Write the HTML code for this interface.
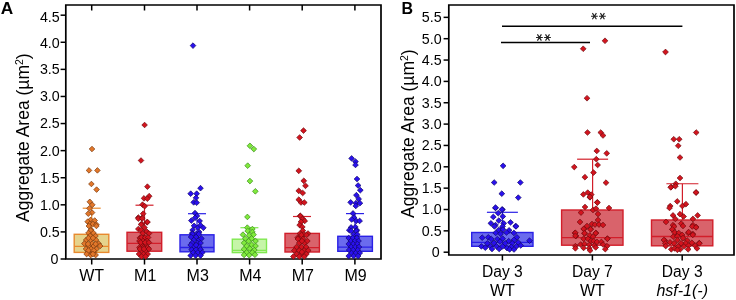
<!DOCTYPE html>
<html><head><meta charset="utf-8"><style>
html,body{margin:0;padding:0;background:#fff;width:736px;height:300px;overflow:hidden}
svg{display:block;will-change:transform}
</style></head><body>
<svg width="736" height="300" viewBox="0 0 736 300" font-family='"Liberation Sans", sans-serif'>
<rect width="736" height="300" fill="#fff"/>
<text transform="translate(0.8,13.6) scale(1.08,1)" font-size="16" font-weight="bold">A</text>
<text transform="translate(28.8,222) rotate(-90)" font-size="17.5">Aggregate Area (µm<tspan font-size="10.5" dy="-5.8">2</tspan><tspan dy="5.8">)</tspan></text>
<path d="M65.8,5.0 H381.0 V259.0 H65.8 Z" fill="none" stroke="#000" stroke-width="1.7"/>
<line x1="60.599999999999994" y1="259.00" x2="65.8" y2="259.00" stroke="#000" stroke-width="1.5"/>
<text transform="translate(58.50,263.75) scale(0.92,1)" text-anchor="end" font-size="15.5">0</text>
<line x1="60.599999999999994" y1="231.91" x2="65.8" y2="231.91" stroke="#000" stroke-width="1.5"/>
<text transform="translate(59.70,237.00) scale(0.92,1)" text-anchor="end" font-size="15.5">0.5</text>
<line x1="60.599999999999994" y1="204.82" x2="65.8" y2="204.82" stroke="#000" stroke-width="1.5"/>
<text transform="translate(59.70,209.60) scale(0.92,1)" text-anchor="end" font-size="15.5">1.0</text>
<line x1="60.599999999999994" y1="177.73" x2="65.8" y2="177.73" stroke="#000" stroke-width="1.5"/>
<text transform="translate(59.70,182.60) scale(0.92,1)" text-anchor="end" font-size="15.5">1.5</text>
<line x1="60.599999999999994" y1="150.64" x2="65.8" y2="150.64" stroke="#000" stroke-width="1.5"/>
<text transform="translate(59.70,156.10) scale(0.92,1)" text-anchor="end" font-size="15.5">2.0</text>
<line x1="60.599999999999994" y1="123.55" x2="65.8" y2="123.55" stroke="#000" stroke-width="1.5"/>
<text transform="translate(59.70,127.60) scale(0.92,1)" text-anchor="end" font-size="15.5">2.5</text>
<line x1="60.599999999999994" y1="96.46" x2="65.8" y2="96.46" stroke="#000" stroke-width="1.5"/>
<text transform="translate(59.70,101.00) scale(0.92,1)" text-anchor="end" font-size="15.5">3.0</text>
<line x1="60.599999999999994" y1="69.37" x2="65.8" y2="69.37" stroke="#000" stroke-width="1.5"/>
<text transform="translate(59.70,74.00) scale(0.92,1)" text-anchor="end" font-size="15.5">3.5</text>
<line x1="60.599999999999994" y1="42.28" x2="65.8" y2="42.28" stroke="#000" stroke-width="1.5"/>
<text transform="translate(59.70,47.50) scale(0.92,1)" text-anchor="end" font-size="15.5">4.0</text>
<line x1="60.599999999999994" y1="15.19" x2="65.8" y2="15.19" stroke="#000" stroke-width="1.5"/>
<text transform="translate(59.70,22.00) scale(0.92,1)" text-anchor="end" font-size="15.5">4.5</text>
<line x1="91.7" y1="259.0" x2="91.7" y2="264.5" stroke="#000" stroke-width="1.5"/>
<line x1="91.7" y1="5.0" x2="91.7" y2="10.5" stroke="#000" stroke-width="1.5"/>
<line x1="144.5" y1="259.0" x2="144.5" y2="264.5" stroke="#000" stroke-width="1.5"/>
<line x1="144.5" y1="5.0" x2="144.5" y2="10.5" stroke="#000" stroke-width="1.5"/>
<line x1="197.0" y1="259.0" x2="197.0" y2="264.5" stroke="#000" stroke-width="1.5"/>
<line x1="197.0" y1="5.0" x2="197.0" y2="10.5" stroke="#000" stroke-width="1.5"/>
<line x1="249.6" y1="259.0" x2="249.6" y2="264.5" stroke="#000" stroke-width="1.5"/>
<line x1="249.6" y1="5.0" x2="249.6" y2="10.5" stroke="#000" stroke-width="1.5"/>
<line x1="302.2" y1="259.0" x2="302.2" y2="264.5" stroke="#000" stroke-width="1.5"/>
<line x1="302.2" y1="5.0" x2="302.2" y2="10.5" stroke="#000" stroke-width="1.5"/>
<line x1="354.9" y1="259.0" x2="354.9" y2="264.5" stroke="#000" stroke-width="1.5"/>
<line x1="354.9" y1="5.0" x2="354.9" y2="10.5" stroke="#000" stroke-width="1.5"/>
<text x="91.7" y="281" text-anchor="middle" font-size="16">WT</text>
<text x="145.2" y="281" text-anchor="middle" font-size="16">M1</text>
<text x="197.7" y="281" text-anchor="middle" font-size="16">M3</text>
<text x="250.29999999999998" y="281" text-anchor="middle" font-size="16">M4</text>
<text x="302.9" y="281" text-anchor="middle" font-size="16">M7</text>
<text x="355.59999999999997" y="281" text-anchor="middle" font-size="16">M9</text>
<rect x="74.2" y="234.3" width="34.599999999999994" height="18.099999999999994" fill="#E6D38C" stroke="#E8892E" stroke-width="1.4"/>
<line x1="74.2" y1="246.3" x2="108.8" y2="246.3" stroke="#E8892E" stroke-width="1.3"/>
<rect x="127" y="232.3" width="34.69999999999999" height="18.899999999999977" fill="#D9636B" stroke="#D21E2A" stroke-width="1.4"/>
<line x1="127" y1="243.3" x2="161.7" y2="243.3" stroke="#D21E2A" stroke-width="1.3"/>
<rect x="180" y="234.8" width="34" height="17.0" fill="#6B6BEE" stroke="#2A20E6" stroke-width="1.4"/>
<line x1="180" y1="247.5" x2="214" y2="247.5" stroke="#2A20E6" stroke-width="1.3"/>
<rect x="232.3" y="239.2" width="34.19999999999999" height="13.400000000000006" fill="#C6F5A8" stroke="#80E850" stroke-width="1.4"/>
<line x1="232.3" y1="250.3" x2="266.5" y2="250.3" stroke="#80E850" stroke-width="1.3"/>
<rect x="285" y="233.4" width="34.39999999999998" height="18.599999999999994" fill="#D9636B" stroke="#D21E2A" stroke-width="1.4"/>
<line x1="285" y1="247.6" x2="319.4" y2="247.6" stroke="#D21E2A" stroke-width="1.3"/>
<rect x="337.8" y="236.3" width="34.599999999999966" height="15.0" fill="#6B6BEE" stroke="#2A20E6" stroke-width="1.4"/>
<line x1="337.8" y1="247.2" x2="372.4" y2="247.2" stroke="#2A20E6" stroke-width="1.3"/>
<line x1="82.7" y1="208.2" x2="100.7" y2="208.2" stroke="#E8892E" stroke-width="1.2"/>
<line x1="91.7" y1="208.2" x2="91.7" y2="234" stroke="#E8892E" stroke-width="1.2"/>
<line x1="135.5" y1="205.2" x2="153.5" y2="205.2" stroke="#D21E2A" stroke-width="1.2"/>
<line x1="144.5" y1="205.2" x2="144.5" y2="232.3" stroke="#D21E2A" stroke-width="1.2"/>
<line x1="188" y1="213.7" x2="206" y2="213.7" stroke="#2A20E6" stroke-width="1.2"/>
<line x1="197" y1="213.7" x2="197" y2="234.8" stroke="#2A20E6" stroke-width="1.2"/>
<line x1="240.4" y1="227.7" x2="258.4" y2="227.7" stroke="#80E850" stroke-width="1.2"/>
<line x1="249.4" y1="227.7" x2="249.4" y2="239.2" stroke="#80E850" stroke-width="1.2"/>
<line x1="293" y1="216.5" x2="311" y2="216.5" stroke="#D21E2A" stroke-width="1.2"/>
<line x1="302" y1="216.5" x2="302" y2="233" stroke="#D21E2A" stroke-width="1.2"/>
<line x1="346" y1="213.6" x2="364" y2="213.6" stroke="#2A20E6" stroke-width="1.2"/>
<line x1="355" y1="213.6" x2="355" y2="236.3" stroke="#2A20E6" stroke-width="1.2"/>
<path d="M92.0,146.2L94.8,149.0L92.0,151.8L89.2,149.0Z" fill="#E2772A" stroke="#7A3A0E" stroke-width="0.7"/>
<path d="M89.0,167.6L91.8,170.4L89.0,173.2L86.2,170.4Z" fill="#E2772A" stroke="#7A3A0E" stroke-width="0.7"/>
<path d="M97.4,167.6L100.2,170.4L97.4,173.2L94.6,170.4Z" fill="#E2772A" stroke="#7A3A0E" stroke-width="0.7"/>
<path d="M91.4,181.2L94.2,184.0L91.4,186.8L88.6,184.0Z" fill="#E2772A" stroke="#7A3A0E" stroke-width="0.7"/>
<path d="M96.6,186.8L99.4,189.6L96.6,192.4L93.8,189.6Z" fill="#E2772A" stroke="#7A3A0E" stroke-width="0.7"/>
<path d="M89.8,199.0L92.6,201.8L89.8,204.7L87.0,201.8Z" fill="#E2772A" stroke="#7A3A0E" stroke-width="0.7"/>
<path d="M92.3,202.0L95.1,204.8L92.3,207.7L89.5,204.8Z" fill="#E2772A" stroke="#7A3A0E" stroke-width="0.7"/>
<path d="M89.4,205.5L92.2,208.3L89.4,211.2L86.6,208.3Z" fill="#E2772A" stroke="#7A3A0E" stroke-width="0.7"/>
<path d="M92.1,209.8L94.9,212.6L92.1,215.4L89.2,212.6Z" fill="#E2772A" stroke="#7A3A0E" stroke-width="0.7"/>
<path d="M88.3,210.8L91.1,213.7L88.3,216.5L85.5,213.7Z" fill="#E2772A" stroke="#7A3A0E" stroke-width="0.7"/>
<path d="M90.6,217.1L93.4,219.9L90.6,222.8L87.8,219.9Z" fill="#E2772A" stroke="#7A3A0E" stroke-width="0.7"/>
<path d="M87.7,218.8L90.5,221.7L87.7,224.5L84.9,221.7Z" fill="#E2772A" stroke="#7A3A0E" stroke-width="0.7"/>
<path d="M94.7,217.7L97.5,220.5L94.7,223.3L91.9,220.5Z" fill="#E2772A" stroke="#7A3A0E" stroke-width="0.7"/>
<path d="M89.8,221.2L92.6,224.0L89.8,226.8L87.0,224.0Z" fill="#E2772A" stroke="#7A3A0E" stroke-width="0.7"/>
<path d="M92.9,221.2L95.8,224.0L92.9,226.8L90.1,224.0Z" fill="#E2772A" stroke="#7A3A0E" stroke-width="0.7"/>
<path d="M96.4,221.8L99.2,224.6L96.4,227.4L93.6,224.6Z" fill="#E2772A" stroke="#7A3A0E" stroke-width="0.7"/>
<path d="M91.2,227.0L94.0,229.8L91.2,232.7L88.4,229.8Z" fill="#E2772A" stroke="#7A3A0E" stroke-width="0.7"/>
<path d="M88.8,223.2L91.6,226.0L88.8,228.8L86.0,226.0Z" fill="#E2772A" stroke="#7A3A0E" stroke-width="0.7"/>
<path d="M96.4,223.2L99.2,226.0L96.4,228.8L93.6,226.0Z" fill="#E2772A" stroke="#7A3A0E" stroke-width="0.7"/>
<path d="M90.6,227.7L93.4,230.5L90.6,233.3L87.8,230.5Z" fill="#E2772A" stroke="#7A3A0E" stroke-width="0.7"/>
<path d="M88.5,230.2L91.3,233.0L88.5,235.8L85.7,233.0Z" fill="#E2772A" stroke="#7A3A0E" stroke-width="0.7"/>
<path d="M93.5,230.2L96.3,233.0L93.5,235.8L90.7,233.0Z" fill="#E2772A" stroke="#7A3A0E" stroke-width="0.7"/>
<path d="M90.0,233.2L92.8,236.0L90.0,238.8L87.2,236.0Z" fill="#E2772A" stroke="#7A3A0E" stroke-width="0.7"/>
<path d="M95.5,233.2L98.3,236.0L95.5,238.8L92.7,236.0Z" fill="#E2772A" stroke="#7A3A0E" stroke-width="0.7"/>
<path d="M86.2,237.2L89.0,240.0L86.2,242.8L83.3,240.0Z" fill="#E2772A" stroke="#7A3A0E" stroke-width="0.7"/>
<path d="M90.8,237.2L93.6,240.0L90.8,242.8L87.9,240.0Z" fill="#E2772A" stroke="#7A3A0E" stroke-width="0.7"/>
<path d="M96.0,237.2L98.8,240.0L96.0,242.8L93.1,240.0Z" fill="#E2772A" stroke="#7A3A0E" stroke-width="0.7"/>
<path d="M84.4,240.8L87.2,243.6L84.4,246.4L81.5,243.6Z" fill="#E2772A" stroke="#7A3A0E" stroke-width="0.7"/>
<path d="M92.3,240.8L95.1,243.6L92.3,246.4L89.5,243.6Z" fill="#E2772A" stroke="#7A3A0E" stroke-width="0.7"/>
<path d="M98.6,240.8L101.4,243.6L98.6,246.4L95.8,243.6Z" fill="#E2772A" stroke="#7A3A0E" stroke-width="0.7"/>
<path d="M88.4,243.2L91.3,246.0L88.4,248.8L85.6,246.0Z" fill="#E2772A" stroke="#7A3A0E" stroke-width="0.7"/>
<path d="M93.8,243.2L96.7,246.0L93.8,248.8L91.0,246.0Z" fill="#E2772A" stroke="#7A3A0E" stroke-width="0.7"/>
<path d="M100.1,243.2L103.0,246.0L100.1,248.8L97.3,246.0Z" fill="#E2772A" stroke="#7A3A0E" stroke-width="0.7"/>
<path d="M86.0,246.2L88.8,249.0L86.0,251.8L83.2,249.0Z" fill="#E2772A" stroke="#7A3A0E" stroke-width="0.7"/>
<path d="M91.1,246.2L94.0,249.0L91.1,251.8L88.3,249.0Z" fill="#E2772A" stroke="#7A3A0E" stroke-width="0.7"/>
<path d="M96.5,246.2L99.4,249.0L96.5,251.8L93.7,249.0Z" fill="#E2772A" stroke="#7A3A0E" stroke-width="0.7"/>
<path d="M88.4,249.2L91.3,252.0L88.4,254.8L85.6,252.0Z" fill="#E2772A" stroke="#7A3A0E" stroke-width="0.7"/>
<path d="M93.4,249.2L96.2,252.0L93.4,254.8L90.5,252.0Z" fill="#E2772A" stroke="#7A3A0E" stroke-width="0.7"/>
<path d="M90.7,252.2L93.5,255.0L90.7,257.9L87.8,255.0Z" fill="#E2772A" stroke="#7A3A0E" stroke-width="0.7"/>
<path d="M95.6,252.2L98.5,255.0L95.6,257.9L92.8,255.0Z" fill="#E2772A" stroke="#7A3A0E" stroke-width="0.7"/>
<path d="M88.4,235.2L91.3,238.0L88.4,240.8L85.6,238.0Z" fill="#E2772A" stroke="#7A3A0E" stroke-width="0.7"/>
<path d="M92.9,235.2L95.8,238.0L92.9,240.8L90.1,238.0Z" fill="#E2772A" stroke="#7A3A0E" stroke-width="0.7"/>
<path d="M88.0,241.2L90.8,244.0L88.0,246.8L85.1,244.0Z" fill="#E2772A" stroke="#7A3A0E" stroke-width="0.7"/>
<path d="M95.6,241.2L98.5,244.0L95.6,246.8L92.8,244.0Z" fill="#E2772A" stroke="#7A3A0E" stroke-width="0.7"/>
<path d="M88.4,247.7L91.3,250.5L88.4,253.3L85.6,250.5Z" fill="#E2772A" stroke="#7A3A0E" stroke-width="0.7"/>
<path d="M93.8,247.7L96.7,250.5L93.8,253.3L91.0,250.5Z" fill="#E2772A" stroke="#7A3A0E" stroke-width="0.7"/>
<path d="M86.6,251.2L89.5,254.0L86.6,256.9L83.8,254.0Z" fill="#E2772A" stroke="#7A3A0E" stroke-width="0.7"/>
<path d="M92.9,251.2L95.8,254.0L92.9,256.9L90.1,254.0Z" fill="#E2772A" stroke="#7A3A0E" stroke-width="0.7"/>
<path d="M144.6,122.2L147.4,125.0L144.6,127.8L141.8,125.0Z" fill="#D3141E" stroke="#6E0A0E" stroke-width="0.7"/>
<path d="M141.0,157.7L143.8,160.5L141.0,163.3L138.2,160.5Z" fill="#D3141E" stroke="#6E0A0E" stroke-width="0.7"/>
<path d="M147.4,183.8L150.2,186.7L147.4,189.5L144.6,186.7Z" fill="#D3141E" stroke="#6E0A0E" stroke-width="0.7"/>
<path d="M149.2,193.3L152.0,196.2L149.2,199.0L146.3,196.2Z" fill="#D3141E" stroke="#6E0A0E" stroke-width="0.7"/>
<path d="M144.0,195.5L146.8,198.3L144.0,201.2L141.2,198.3Z" fill="#D3141E" stroke="#6E0A0E" stroke-width="0.7"/>
<path d="M147.3,195.8L150.2,198.7L147.3,201.5L144.5,198.7Z" fill="#D3141E" stroke="#6E0A0E" stroke-width="0.7"/>
<path d="M142.5,201.8L145.3,204.7L142.5,207.5L139.7,204.7Z" fill="#D3141E" stroke="#6E0A0E" stroke-width="0.7"/>
<path d="M144.7,203.3L147.5,206.2L144.7,209.0L141.8,206.2Z" fill="#D3141E" stroke="#6E0A0E" stroke-width="0.7"/>
<path d="M143.2,210.8L146.0,213.7L143.2,216.5L140.3,213.7Z" fill="#D3141E" stroke="#6E0A0E" stroke-width="0.7"/>
<path d="M138.3,214.7L141.2,217.5L138.3,220.3L135.5,217.5Z" fill="#D3141E" stroke="#6E0A0E" stroke-width="0.7"/>
<path d="M141.7,215.3L144.5,218.2L141.7,221.0L138.8,218.2Z" fill="#D3141E" stroke="#6E0A0E" stroke-width="0.7"/>
<path d="M147.0,219.5L149.8,222.3L147.0,225.2L144.2,222.3Z" fill="#D3141E" stroke="#6E0A0E" stroke-width="0.7"/>
<path d="M141.7,221.0L144.5,223.8L141.7,226.7L138.8,223.8Z" fill="#D3141E" stroke="#6E0A0E" stroke-width="0.7"/>
<path d="M138.3,215.8L141.2,218.7L138.3,221.5L135.5,218.7Z" fill="#D3141E" stroke="#6E0A0E" stroke-width="0.7"/>
<path d="M142.3,215.6L145.2,218.4L142.3,221.2L139.5,218.4Z" fill="#D3141E" stroke="#6E0A0E" stroke-width="0.7"/>
<path d="M147.5,219.2L150.3,222.0L147.5,224.8L144.7,222.0Z" fill="#D3141E" stroke="#6E0A0E" stroke-width="0.7"/>
<path d="M141.2,221.8L144.0,224.6L141.2,227.4L138.3,224.6Z" fill="#D3141E" stroke="#6E0A0E" stroke-width="0.7"/>
<path d="M144.5,224.8L147.3,227.6L144.5,230.4L141.7,227.6Z" fill="#D3141E" stroke="#6E0A0E" stroke-width="0.7"/>
<path d="M138.3,226.2L141.2,229.0L138.3,231.8L135.5,229.0Z" fill="#D3141E" stroke="#6E0A0E" stroke-width="0.7"/>
<path d="M141.2,227.2L144.0,230.1L141.2,232.9L138.3,230.1Z" fill="#D3141E" stroke="#6E0A0E" stroke-width="0.7"/>
<path d="M146.8,228.8L149.6,231.6L146.8,234.4L143.9,231.6Z" fill="#D3141E" stroke="#6E0A0E" stroke-width="0.7"/>
<path d="M142.7,230.6L145.5,233.4L142.7,236.2L139.8,233.4Z" fill="#D3141E" stroke="#6E0A0E" stroke-width="0.7"/>
<path d="M149.0,230.6L151.8,233.4L149.0,236.2L146.2,233.4Z" fill="#D3141E" stroke="#6E0A0E" stroke-width="0.7"/>
<path d="M139.8,235.1L142.7,237.9L139.8,240.8L137.0,237.9Z" fill="#D3141E" stroke="#6E0A0E" stroke-width="0.7"/>
<path d="M144.2,235.1L147.0,237.9L144.2,240.8L141.3,237.9Z" fill="#D3141E" stroke="#6E0A0E" stroke-width="0.7"/>
<path d="M141.5,234.7L144.4,237.5L141.5,240.3L138.7,237.5Z" fill="#D3141E" stroke="#6E0A0E" stroke-width="0.7"/>
<path d="M145.2,234.7L148.0,237.5L145.2,240.3L142.3,237.5Z" fill="#D3141E" stroke="#6E0A0E" stroke-width="0.7"/>
<path d="M148.1,234.7L150.9,237.5L148.1,240.3L145.2,237.5Z" fill="#D3141E" stroke="#6E0A0E" stroke-width="0.7"/>
<path d="M139.5,238.2L142.3,241.0L139.5,243.8L136.6,241.0Z" fill="#D3141E" stroke="#6E0A0E" stroke-width="0.7"/>
<path d="M143.1,238.2L146.0,241.0L143.1,243.8L140.3,241.0Z" fill="#D3141E" stroke="#6E0A0E" stroke-width="0.7"/>
<path d="M147.2,238.2L150.1,241.0L147.2,243.8L144.4,241.0Z" fill="#D3141E" stroke="#6E0A0E" stroke-width="0.7"/>
<path d="M141.5,241.2L144.4,244.0L141.5,246.8L138.7,244.0Z" fill="#D3141E" stroke="#6E0A0E" stroke-width="0.7"/>
<path d="M145.6,241.2L148.5,244.0L145.6,246.8L142.8,244.0Z" fill="#D3141E" stroke="#6E0A0E" stroke-width="0.7"/>
<path d="M139.5,244.7L142.3,247.5L139.5,250.3L136.6,247.5Z" fill="#D3141E" stroke="#6E0A0E" stroke-width="0.7"/>
<path d="M143.6,244.7L146.4,247.5L143.6,250.3L140.7,247.5Z" fill="#D3141E" stroke="#6E0A0E" stroke-width="0.7"/>
<path d="M147.7,244.7L150.5,247.5L147.7,250.3L144.8,247.5Z" fill="#D3141E" stroke="#6E0A0E" stroke-width="0.7"/>
<path d="M141.5,248.2L144.4,251.0L141.5,253.8L138.7,251.0Z" fill="#D3141E" stroke="#6E0A0E" stroke-width="0.7"/>
<path d="M145.6,248.2L148.5,251.0L145.6,253.8L142.8,251.0Z" fill="#D3141E" stroke="#6E0A0E" stroke-width="0.7"/>
<path d="M139.0,251.2L141.9,254.0L139.0,256.9L136.2,254.0Z" fill="#D3141E" stroke="#6E0A0E" stroke-width="0.7"/>
<path d="M143.6,251.2L146.4,254.0L143.6,256.9L140.7,254.0Z" fill="#D3141E" stroke="#6E0A0E" stroke-width="0.7"/>
<path d="M147.7,251.2L150.5,254.0L147.7,256.9L144.8,254.0Z" fill="#D3141E" stroke="#6E0A0E" stroke-width="0.7"/>
<path d="M141.5,253.7L144.4,256.5L141.5,259.4L138.7,256.5Z" fill="#D3141E" stroke="#6E0A0E" stroke-width="0.7"/>
<path d="M145.6,253.7L148.5,256.5L145.6,259.4L142.8,256.5Z" fill="#D3141E" stroke="#6E0A0E" stroke-width="0.7"/>
<path d="M139.9,246.2L142.7,249.0L139.9,251.8L137.0,249.0Z" fill="#D3141E" stroke="#6E0A0E" stroke-width="0.7"/>
<path d="M144.0,246.2L146.8,249.0L144.0,251.8L141.1,249.0Z" fill="#D3141E" stroke="#6E0A0E" stroke-width="0.7"/>
<path d="M148.9,246.2L151.7,249.0L148.9,251.8L146.0,249.0Z" fill="#D3141E" stroke="#6E0A0E" stroke-width="0.7"/>
<path d="M140.7,239.7L143.5,242.5L140.7,245.3L137.8,242.5Z" fill="#D3141E" stroke="#6E0A0E" stroke-width="0.7"/>
<path d="M145.2,239.7L148.0,242.5L145.2,245.3L142.3,242.5Z" fill="#D3141E" stroke="#6E0A0E" stroke-width="0.7"/>
<path d="M148.9,239.7L151.7,242.5L148.9,245.3L146.0,242.5Z" fill="#D3141E" stroke="#6E0A0E" stroke-width="0.7"/>
<path d="M193.0,42.8L195.8,45.6L193.0,48.5L190.2,45.6Z" fill="#2A10EE" stroke="#10086A" stroke-width="0.7"/>
<path d="M200.5,185.3L203.3,188.2L200.5,191.0L197.7,188.2Z" fill="#2A10EE" stroke="#10086A" stroke-width="0.7"/>
<path d="M190.7,190.8L193.5,193.7L190.7,196.5L187.8,193.7Z" fill="#2A10EE" stroke="#10086A" stroke-width="0.7"/>
<path d="M196.7,190.8L199.5,193.7L196.7,196.5L193.8,193.7Z" fill="#2A10EE" stroke="#10086A" stroke-width="0.7"/>
<path d="M196.0,195.0L198.8,197.8L196.0,200.7L193.2,197.8Z" fill="#2A10EE" stroke="#10086A" stroke-width="0.7"/>
<path d="M193.7,199.5L196.5,202.3L193.7,205.2L190.8,202.3Z" fill="#2A10EE" stroke="#10086A" stroke-width="0.7"/>
<path d="M196.7,199.8L199.5,202.7L196.7,205.5L193.8,202.7Z" fill="#2A10EE" stroke="#10086A" stroke-width="0.7"/>
<path d="M195.0,210.2L197.8,213.1L195.0,215.9L192.2,213.1Z" fill="#2A10EE" stroke="#10086A" stroke-width="0.7"/>
<path d="M196.9,213.1L199.8,215.9L196.9,218.8L194.1,215.9Z" fill="#2A10EE" stroke="#10086A" stroke-width="0.7"/>
<path d="M195.0,215.0L197.8,217.8L195.0,220.7L192.2,217.8Z" fill="#2A10EE" stroke="#10086A" stroke-width="0.7"/>
<path d="M191.3,217.8L194.2,220.6L191.3,223.4L188.5,220.6Z" fill="#2A10EE" stroke="#10086A" stroke-width="0.7"/>
<path d="M199.7,218.2L202.5,221.1L199.7,223.9L196.8,221.1Z" fill="#2A10EE" stroke="#10086A" stroke-width="0.7"/>
<path d="M194.1,223.0L196.9,225.8L194.1,228.7L191.2,225.8Z" fill="#2A10EE" stroke="#10086A" stroke-width="0.7"/>
<path d="M197.8,224.8L200.7,227.6L197.8,230.4L195.0,227.6Z" fill="#2A10EE" stroke="#10086A" stroke-width="0.7"/>
<path d="M200.6,222.5L203.4,225.3L200.6,228.2L197.8,225.3Z" fill="#2A10EE" stroke="#10086A" stroke-width="0.7"/>
<path d="M203.4,225.0L206.2,227.8L203.4,230.7L200.6,227.8Z" fill="#2A10EE" stroke="#10086A" stroke-width="0.7"/>
<path d="M192.7,227.2L195.5,230.0L192.7,232.8L189.8,230.0Z" fill="#2A10EE" stroke="#10086A" stroke-width="0.7"/>
<path d="M199.2,229.2L202.0,232.1L199.2,234.9L196.3,232.1Z" fill="#2A10EE" stroke="#10086A" stroke-width="0.7"/>
<path d="M192.2,230.3L195.0,233.2L192.2,236.0L189.3,233.2Z" fill="#2A10EE" stroke="#10086A" stroke-width="0.7"/>
<path d="M196.0,231.3L198.8,234.2L196.0,237.0L193.2,234.2Z" fill="#2A10EE" stroke="#10086A" stroke-width="0.7"/>
<path d="M192.4,231.2L195.3,234.0L192.4,236.8L189.6,234.0Z" fill="#2A10EE" stroke="#10086A" stroke-width="0.7"/>
<path d="M198.8,231.2L201.6,234.0L198.8,236.8L195.9,234.0Z" fill="#2A10EE" stroke="#10086A" stroke-width="0.7"/>
<path d="M191.1,234.2L193.9,237.0L191.1,239.8L188.2,237.0Z" fill="#2A10EE" stroke="#10086A" stroke-width="0.7"/>
<path d="M196.1,234.2L198.9,237.0L196.1,239.8L193.2,237.0Z" fill="#2A10EE" stroke="#10086A" stroke-width="0.7"/>
<path d="M193.8,237.2L196.7,240.0L193.8,242.8L191.0,240.0Z" fill="#2A10EE" stroke="#10086A" stroke-width="0.7"/>
<path d="M198.8,237.2L201.6,240.0L198.8,242.8L195.9,240.0Z" fill="#2A10EE" stroke="#10086A" stroke-width="0.7"/>
<path d="M192.0,240.2L194.8,243.0L192.0,245.8L189.2,243.0Z" fill="#2A10EE" stroke="#10086A" stroke-width="0.7"/>
<path d="M197.4,240.2L200.2,243.0L197.4,245.8L194.6,243.0Z" fill="#2A10EE" stroke="#10086A" stroke-width="0.7"/>
<path d="M200.6,240.2L203.4,243.0L200.6,245.8L197.7,243.0Z" fill="#2A10EE" stroke="#10086A" stroke-width="0.7"/>
<path d="M194.2,243.7L197.1,246.5L194.2,249.3L191.4,246.5Z" fill="#2A10EE" stroke="#10086A" stroke-width="0.7"/>
<path d="M199.2,243.7L202.0,246.5L199.2,249.3L196.3,246.5Z" fill="#2A10EE" stroke="#10086A" stroke-width="0.7"/>
<path d="M191.6,246.7L194.4,249.5L191.6,252.3L188.7,249.5Z" fill="#2A10EE" stroke="#10086A" stroke-width="0.7"/>
<path d="M196.1,246.7L198.9,249.5L196.1,252.3L193.2,249.5Z" fill="#2A10EE" stroke="#10086A" stroke-width="0.7"/>
<path d="M200.6,246.7L203.4,249.5L200.6,252.3L197.7,249.5Z" fill="#2A10EE" stroke="#10086A" stroke-width="0.7"/>
<path d="M193.3,249.7L196.2,252.5L193.3,255.3L190.5,252.5Z" fill="#2A10EE" stroke="#10086A" stroke-width="0.7"/>
<path d="M197.8,249.7L200.7,252.5L197.8,255.3L195.0,252.5Z" fill="#2A10EE" stroke="#10086A" stroke-width="0.7"/>
<path d="M202.3,249.7L205.2,252.5L202.3,255.3L199.5,252.5Z" fill="#2A10EE" stroke="#10086A" stroke-width="0.7"/>
<path d="M190.7,252.7L193.5,255.5L190.7,258.4L187.8,255.5Z" fill="#2A10EE" stroke="#10086A" stroke-width="0.7"/>
<path d="M195.6,252.7L198.4,255.5L195.6,258.4L192.8,255.5Z" fill="#2A10EE" stroke="#10086A" stroke-width="0.7"/>
<path d="M200.6,252.7L203.4,255.5L200.6,258.4L197.7,255.5Z" fill="#2A10EE" stroke="#10086A" stroke-width="0.7"/>
<path d="M201.4,235.7L204.3,238.5L201.4,241.3L198.6,238.5Z" fill="#2A10EE" stroke="#10086A" stroke-width="0.7"/>
<path d="M190.7,242.2L193.5,245.0L190.7,247.8L187.8,245.0Z" fill="#2A10EE" stroke="#10086A" stroke-width="0.7"/>
<path d="M196.1,242.2L198.9,245.0L196.1,247.8L193.2,245.0Z" fill="#2A10EE" stroke="#10086A" stroke-width="0.7"/>
<path d="M249.9,143.0L252.8,145.8L249.9,148.7L247.1,145.8Z" fill="#80EA3C" stroke="#3A8A1A" stroke-width="0.7"/>
<path d="M253.8,146.2L256.7,149.1L253.8,151.9L251.0,149.1Z" fill="#80EA3C" stroke="#3A8A1A" stroke-width="0.7"/>
<path d="M247.7,162.8L250.5,165.7L247.7,168.5L244.8,165.7Z" fill="#80EA3C" stroke="#3A8A1A" stroke-width="0.7"/>
<path d="M249.9,178.2L252.8,181.1L249.9,183.9L247.1,181.1Z" fill="#80EA3C" stroke="#3A8A1A" stroke-width="0.7"/>
<path d="M255.3,188.5L258.2,191.3L255.3,194.2L252.5,191.3Z" fill="#80EA3C" stroke="#3A8A1A" stroke-width="0.7"/>
<path d="M247.4,214.1L250.2,216.9L247.4,219.8L244.6,216.9Z" fill="#80EA3C" stroke="#3A8A1A" stroke-width="0.7"/>
<path d="M247.3,224.8L250.2,227.7L247.3,230.5L244.5,227.7Z" fill="#80EA3C" stroke="#3A8A1A" stroke-width="0.7"/>
<path d="M252.4,226.2L255.2,229.0L252.4,231.8L249.6,229.0Z" fill="#80EA3C" stroke="#3A8A1A" stroke-width="0.7"/>
<path d="M247.7,228.1L250.5,230.9L247.7,233.8L244.8,230.9Z" fill="#80EA3C" stroke="#3A8A1A" stroke-width="0.7"/>
<path d="M252.4,229.1L255.2,231.9L252.4,234.8L249.6,231.9Z" fill="#80EA3C" stroke="#3A8A1A" stroke-width="0.7"/>
<path d="M242.9,231.8L245.8,234.7L242.9,237.5L240.1,234.7Z" fill="#80EA3C" stroke="#3A8A1A" stroke-width="0.7"/>
<path d="M249.2,232.5L252.0,235.3L249.2,238.2L246.3,235.3Z" fill="#80EA3C" stroke="#3A8A1A" stroke-width="0.7"/>
<path d="M253.6,231.8L256.4,234.7L253.6,237.5L250.8,234.7Z" fill="#80EA3C" stroke="#3A8A1A" stroke-width="0.7"/>
<path d="M245.4,235.7L248.2,238.5L245.4,241.3L242.6,238.5Z" fill="#80EA3C" stroke="#3A8A1A" stroke-width="0.7"/>
<path d="M251.7,235.7L254.5,238.5L251.7,241.3L248.8,238.5Z" fill="#80EA3C" stroke="#3A8A1A" stroke-width="0.7"/>
<path d="M255.5,238.2L258.4,241.0L255.5,243.8L252.7,241.0Z" fill="#80EA3C" stroke="#3A8A1A" stroke-width="0.7"/>
<path d="M248.6,238.3L251.4,241.2L248.6,244.0L245.8,241.2Z" fill="#80EA3C" stroke="#3A8A1A" stroke-width="0.7"/>
<path d="M244.1,240.1L246.9,242.9L244.1,245.8L241.2,242.9Z" fill="#80EA3C" stroke="#3A8A1A" stroke-width="0.7"/>
<path d="M251.7,242.0L254.5,244.8L251.7,247.7L248.8,244.8Z" fill="#80EA3C" stroke="#3A8A1A" stroke-width="0.7"/>
<path d="M246.7,243.2L249.5,246.0L246.7,248.8L243.8,246.0Z" fill="#80EA3C" stroke="#3A8A1A" stroke-width="0.7"/>
<path d="M255.5,243.2L258.4,246.0L255.5,248.8L252.7,246.0Z" fill="#80EA3C" stroke="#3A8A1A" stroke-width="0.7"/>
<path d="M244.1,246.3L246.9,249.2L244.1,252.0L241.2,249.2Z" fill="#80EA3C" stroke="#3A8A1A" stroke-width="0.7"/>
<path d="M249.8,245.8L252.7,248.6L249.8,251.4L247.0,248.6Z" fill="#80EA3C" stroke="#3A8A1A" stroke-width="0.7"/>
<path d="M254.3,247.2L257.2,250.1L254.3,252.9L251.5,250.1Z" fill="#80EA3C" stroke="#3A8A1A" stroke-width="0.7"/>
<path d="M246.7,249.6L249.5,252.4L246.7,255.2L243.8,252.4Z" fill="#80EA3C" stroke="#3A8A1A" stroke-width="0.7"/>
<path d="M252.4,249.6L255.2,252.4L252.4,255.2L249.6,252.4Z" fill="#80EA3C" stroke="#3A8A1A" stroke-width="0.7"/>
<path d="M244.1,252.1L246.9,254.9L244.1,257.8L241.2,254.9Z" fill="#80EA3C" stroke="#3A8A1A" stroke-width="0.7"/>
<path d="M249.2,252.3L252.0,255.2L249.2,258.1L246.3,255.2Z" fill="#80EA3C" stroke="#3A8A1A" stroke-width="0.7"/>
<path d="M254.9,251.8L257.8,254.7L254.9,257.6L252.1,254.7Z" fill="#80EA3C" stroke="#3A8A1A" stroke-width="0.7"/>
<path d="M303.5,127.8L306.4,130.6L303.5,133.4L300.6,130.6Z" fill="#D3141E" stroke="#6E0A0E" stroke-width="0.7"/>
<path d="M299.6,134.7L302.5,137.5L299.6,140.3L296.8,137.5Z" fill="#D3141E" stroke="#6E0A0E" stroke-width="0.7"/>
<path d="M298.8,168.0L301.7,170.8L298.8,173.7L295.9,170.8Z" fill="#D3141E" stroke="#6E0A0E" stroke-width="0.7"/>
<path d="M303.8,178.0L306.7,180.8L303.8,183.7L300.9,180.8Z" fill="#D3141E" stroke="#6E0A0E" stroke-width="0.7"/>
<path d="M305.5,183.0L308.4,185.8L305.5,188.7L302.6,185.8Z" fill="#D3141E" stroke="#6E0A0E" stroke-width="0.7"/>
<path d="M298.8,188.0L301.7,190.8L298.8,193.7L295.9,190.8Z" fill="#D3141E" stroke="#6E0A0E" stroke-width="0.7"/>
<path d="M302.7,190.2L305.6,193.0L302.7,195.8L299.8,193.0Z" fill="#D3141E" stroke="#6E0A0E" stroke-width="0.7"/>
<path d="M298.8,196.8L301.7,199.7L298.8,202.5L295.9,199.7Z" fill="#D3141E" stroke="#6E0A0E" stroke-width="0.7"/>
<path d="M301.0,199.7L303.9,202.5L301.0,205.3L298.1,202.5Z" fill="#D3141E" stroke="#6E0A0E" stroke-width="0.7"/>
<path d="M304.3,199.7L307.2,202.5L304.3,205.3L301.4,202.5Z" fill="#D3141E" stroke="#6E0A0E" stroke-width="0.7"/>
<path d="M300.2,213.0L303.1,215.8L300.2,218.7L297.3,215.8Z" fill="#D3141E" stroke="#6E0A0E" stroke-width="0.7"/>
<path d="M303.0,216.3L305.9,219.2L303.0,222.0L300.1,219.2Z" fill="#D3141E" stroke="#6E0A0E" stroke-width="0.7"/>
<path d="M300.5,213.3L303.4,216.2L300.5,219.0L297.6,216.2Z" fill="#D3141E" stroke="#6E0A0E" stroke-width="0.7"/>
<path d="M302.4,216.2L305.2,219.0L302.4,221.8L299.5,219.0Z" fill="#D3141E" stroke="#6E0A0E" stroke-width="0.7"/>
<path d="M304.7,218.1L307.6,220.9L304.7,223.8L301.8,220.9Z" fill="#D3141E" stroke="#6E0A0E" stroke-width="0.7"/>
<path d="M301.0,219.0L303.9,221.8L301.0,224.7L298.1,221.8Z" fill="#D3141E" stroke="#6E0A0E" stroke-width="0.7"/>
<path d="M299.6,222.2L302.5,225.1L299.6,227.9L296.8,225.1Z" fill="#D3141E" stroke="#6E0A0E" stroke-width="0.7"/>
<path d="M302.4,224.2L305.2,227.0L302.4,229.8L299.5,227.0Z" fill="#D3141E" stroke="#6E0A0E" stroke-width="0.7"/>
<path d="M302.8,227.8L305.7,230.7L302.8,233.5L299.9,230.7Z" fill="#D3141E" stroke="#6E0A0E" stroke-width="0.7"/>
<path d="M300.0,230.7L302.9,233.5L300.0,236.3L297.1,233.5Z" fill="#D3141E" stroke="#6E0A0E" stroke-width="0.7"/>
<path d="M308.0,230.7L310.9,233.5L308.0,236.3L305.1,233.5Z" fill="#D3141E" stroke="#6E0A0E" stroke-width="0.7"/>
<path d="M303.8,231.6L306.7,234.4L303.8,237.2L300.9,234.4Z" fill="#D3141E" stroke="#6E0A0E" stroke-width="0.7"/>
<path d="M297.7,234.8L300.6,237.7L297.7,240.5L294.8,237.7Z" fill="#D3141E" stroke="#6E0A0E" stroke-width="0.7"/>
<path d="M301.4,234.3L304.2,237.2L301.4,240.0L298.5,237.2Z" fill="#D3141E" stroke="#6E0A0E" stroke-width="0.7"/>
<path d="M301.5,232.2L304.4,235.0L301.5,237.8L298.6,235.0Z" fill="#D3141E" stroke="#6E0A0E" stroke-width="0.7"/>
<path d="M306.4,232.2L309.3,235.0L306.4,237.8L303.6,235.0Z" fill="#D3141E" stroke="#6E0A0E" stroke-width="0.7"/>
<path d="M297.9,236.2L300.8,239.0L297.9,241.8L295.0,239.0Z" fill="#D3141E" stroke="#6E0A0E" stroke-width="0.7"/>
<path d="M302.9,236.2L305.7,239.0L302.9,241.8L300.0,239.0Z" fill="#D3141E" stroke="#6E0A0E" stroke-width="0.7"/>
<path d="M299.2,240.2L302.1,243.0L299.2,245.8L296.4,243.0Z" fill="#D3141E" stroke="#6E0A0E" stroke-width="0.7"/>
<path d="M304.6,240.2L307.5,243.0L304.6,245.8L301.8,243.0Z" fill="#D3141E" stroke="#6E0A0E" stroke-width="0.7"/>
<path d="M296.6,244.2L299.4,247.0L296.6,249.8L293.7,247.0Z" fill="#D3141E" stroke="#6E0A0E" stroke-width="0.7"/>
<path d="M301.5,244.2L304.4,247.0L301.5,249.8L298.6,247.0Z" fill="#D3141E" stroke="#6E0A0E" stroke-width="0.7"/>
<path d="M306.0,244.2L308.9,247.0L306.0,249.8L303.1,247.0Z" fill="#D3141E" stroke="#6E0A0E" stroke-width="0.7"/>
<path d="M294.3,247.7L297.2,250.5L294.3,253.3L291.4,250.5Z" fill="#D3141E" stroke="#6E0A0E" stroke-width="0.7"/>
<path d="M299.2,247.7L302.1,250.5L299.2,253.3L296.4,250.5Z" fill="#D3141E" stroke="#6E0A0E" stroke-width="0.7"/>
<path d="M304.2,247.7L307.1,250.5L304.2,253.3L301.3,250.5Z" fill="#D3141E" stroke="#6E0A0E" stroke-width="0.7"/>
<path d="M308.2,247.7L311.1,250.5L308.2,253.3L305.4,250.5Z" fill="#D3141E" stroke="#6E0A0E" stroke-width="0.7"/>
<path d="M296.6,251.2L299.4,254.0L296.6,256.9L293.7,254.0Z" fill="#D3141E" stroke="#6E0A0E" stroke-width="0.7"/>
<path d="M301.5,251.2L304.4,254.0L301.5,256.9L298.6,254.0Z" fill="#D3141E" stroke="#6E0A0E" stroke-width="0.7"/>
<path d="M306.4,251.2L309.3,254.0L306.4,256.9L303.6,254.0Z" fill="#D3141E" stroke="#6E0A0E" stroke-width="0.7"/>
<path d="M293.4,253.7L296.2,256.5L293.4,259.4L290.5,256.5Z" fill="#D3141E" stroke="#6E0A0E" stroke-width="0.7"/>
<path d="M299.2,253.7L302.1,256.5L299.2,259.4L296.4,256.5Z" fill="#D3141E" stroke="#6E0A0E" stroke-width="0.7"/>
<path d="M304.2,253.7L307.1,256.5L304.2,259.4L301.3,256.5Z" fill="#D3141E" stroke="#6E0A0E" stroke-width="0.7"/>
<path d="M301.9,238.2L304.8,241.0L301.9,243.8L299.1,241.0Z" fill="#D3141E" stroke="#6E0A0E" stroke-width="0.7"/>
<path d="M307.4,238.2L310.2,241.0L307.4,243.8L304.5,241.0Z" fill="#D3141E" stroke="#6E0A0E" stroke-width="0.7"/>
<path d="M301.9,249.2L304.8,252.0L301.9,254.8L299.1,252.0Z" fill="#D3141E" stroke="#6E0A0E" stroke-width="0.7"/>
<path d="M351.6,155.6L354.5,158.4L351.6,161.2L348.8,158.4Z" fill="#2A10EE" stroke="#10086A" stroke-width="0.7"/>
<path d="M355.5,158.8L358.4,161.6L355.5,164.4L352.6,161.6Z" fill="#2A10EE" stroke="#10086A" stroke-width="0.7"/>
<path d="M355.5,162.1L358.4,164.9L355.5,167.8L352.6,164.9Z" fill="#2A10EE" stroke="#10086A" stroke-width="0.7"/>
<path d="M357.0,176.2L359.9,179.0L357.0,181.8L354.1,179.0Z" fill="#2A10EE" stroke="#10086A" stroke-width="0.7"/>
<path d="M358.1,182.7L361.0,185.5L358.1,188.3L355.2,185.5Z" fill="#2A10EE" stroke="#10086A" stroke-width="0.7"/>
<path d="M360.3,187.3L363.2,190.2L360.3,193.0L357.4,190.2Z" fill="#2A10EE" stroke="#10086A" stroke-width="0.7"/>
<path d="M356.4,192.3L359.2,195.2L356.4,198.0L353.5,195.2Z" fill="#2A10EE" stroke="#10086A" stroke-width="0.7"/>
<path d="M358.6,196.1L361.5,198.9L358.6,201.8L355.8,198.9Z" fill="#2A10EE" stroke="#10086A" stroke-width="0.7"/>
<path d="M350.6,199.5L353.5,202.3L350.6,205.2L347.8,202.3Z" fill="#2A10EE" stroke="#10086A" stroke-width="0.7"/>
<path d="M356.0,200.3L358.9,203.2L356.0,206.0L353.1,203.2Z" fill="#2A10EE" stroke="#10086A" stroke-width="0.7"/>
<path d="M359.9,200.3L362.8,203.2L359.9,206.0L357.0,203.2Z" fill="#2A10EE" stroke="#10086A" stroke-width="0.7"/>
<path d="M355.8,203.1L358.7,205.9L355.8,208.8L352.9,205.9Z" fill="#2A10EE" stroke="#10086A" stroke-width="0.7"/>
<path d="M353.0,210.6L355.9,213.4L353.0,216.2L350.1,213.4Z" fill="#2A10EE" stroke="#10086A" stroke-width="0.7"/>
<path d="M354.0,214.8L356.9,217.6L354.0,220.4L351.1,217.6Z" fill="#2A10EE" stroke="#10086A" stroke-width="0.7"/>
<path d="M351.6,216.7L354.5,219.5L351.6,222.3L348.8,219.5Z" fill="#2A10EE" stroke="#10086A" stroke-width="0.7"/>
<path d="M356.3,218.1L359.2,220.9L356.3,223.8L353.4,220.9Z" fill="#2A10EE" stroke="#10086A" stroke-width="0.7"/>
<path d="M359.6,218.1L362.5,220.9L359.6,223.8L356.8,220.9Z" fill="#2A10EE" stroke="#10086A" stroke-width="0.7"/>
<path d="M351.1,224.6L354.0,227.4L351.1,230.2L348.2,227.4Z" fill="#2A10EE" stroke="#10086A" stroke-width="0.7"/>
<path d="M355.4,224.2L358.2,227.0L355.4,229.8L352.5,227.0Z" fill="#2A10EE" stroke="#10086A" stroke-width="0.7"/>
<path d="M349.3,227.3L352.2,230.2L349.3,233.0L346.4,230.2Z" fill="#2A10EE" stroke="#10086A" stroke-width="0.7"/>
<path d="M356.8,227.3L359.7,230.2L356.8,233.0L353.9,230.2Z" fill="#2A10EE" stroke="#10086A" stroke-width="0.7"/>
<path d="M351.2,228.2L354.0,231.0L351.2,233.8L348.3,231.0Z" fill="#2A10EE" stroke="#10086A" stroke-width="0.7"/>
<path d="M356.5,228.2L359.3,231.0L356.5,233.8L353.6,231.0Z" fill="#2A10EE" stroke="#10086A" stroke-width="0.7"/>
<path d="M353.6,231.7L356.5,234.5L353.6,237.3L350.8,234.5Z" fill="#2A10EE" stroke="#10086A" stroke-width="0.7"/>
<path d="M357.3,231.7L360.2,234.5L357.3,237.3L354.5,234.5Z" fill="#2A10EE" stroke="#10086A" stroke-width="0.7"/>
<path d="M348.7,235.2L351.6,238.0L348.7,240.8L345.9,238.0Z" fill="#2A10EE" stroke="#10086A" stroke-width="0.7"/>
<path d="M352.8,235.2L355.7,238.0L352.8,240.8L350.0,238.0Z" fill="#2A10EE" stroke="#10086A" stroke-width="0.7"/>
<path d="M356.9,235.2L359.8,238.0L356.9,240.8L354.1,238.0Z" fill="#2A10EE" stroke="#10086A" stroke-width="0.7"/>
<path d="M350.8,238.2L353.6,241.0L350.8,243.8L347.9,241.0Z" fill="#2A10EE" stroke="#10086A" stroke-width="0.7"/>
<path d="M354.9,238.2L357.7,241.0L354.9,243.8L352.0,241.0Z" fill="#2A10EE" stroke="#10086A" stroke-width="0.7"/>
<path d="M358.5,238.2L361.4,241.0L358.5,243.8L355.7,241.0Z" fill="#2A10EE" stroke="#10086A" stroke-width="0.7"/>
<path d="M348.7,241.2L351.6,244.0L348.7,246.8L345.9,244.0Z" fill="#2A10EE" stroke="#10086A" stroke-width="0.7"/>
<path d="M353.2,241.2L356.1,244.0L353.2,246.8L350.4,244.0Z" fill="#2A10EE" stroke="#10086A" stroke-width="0.7"/>
<path d="M357.3,241.2L360.2,244.0L357.3,246.8L354.5,244.0Z" fill="#2A10EE" stroke="#10086A" stroke-width="0.7"/>
<path d="M351.2,244.2L354.0,247.0L351.2,249.8L348.3,247.0Z" fill="#2A10EE" stroke="#10086A" stroke-width="0.7"/>
<path d="M355.3,244.2L358.1,247.0L355.3,249.8L352.4,247.0Z" fill="#2A10EE" stroke="#10086A" stroke-width="0.7"/>
<path d="M359.0,244.2L361.8,247.0L359.0,249.8L356.1,247.0Z" fill="#2A10EE" stroke="#10086A" stroke-width="0.7"/>
<path d="M349.1,247.2L352.0,250.0L349.1,252.8L346.3,250.0Z" fill="#2A10EE" stroke="#10086A" stroke-width="0.7"/>
<path d="M353.2,247.2L356.1,250.0L353.2,252.8L350.4,250.0Z" fill="#2A10EE" stroke="#10086A" stroke-width="0.7"/>
<path d="M357.7,247.2L360.6,250.0L357.7,252.8L354.9,250.0Z" fill="#2A10EE" stroke="#10086A" stroke-width="0.7"/>
<path d="M351.6,250.2L354.4,253.0L351.6,255.8L348.7,253.0Z" fill="#2A10EE" stroke="#10086A" stroke-width="0.7"/>
<path d="M355.7,250.2L358.5,253.0L355.7,255.8L352.8,253.0Z" fill="#2A10EE" stroke="#10086A" stroke-width="0.7"/>
<path d="M359.8,250.2L362.6,253.0L359.8,255.8L356.9,253.0Z" fill="#2A10EE" stroke="#10086A" stroke-width="0.7"/>
<path d="M348.7,253.2L351.6,256.0L348.7,258.9L345.9,256.0Z" fill="#2A10EE" stroke="#10086A" stroke-width="0.7"/>
<path d="M353.6,253.2L356.5,256.0L353.6,258.9L350.8,256.0Z" fill="#2A10EE" stroke="#10086A" stroke-width="0.7"/>
<path d="M358.1,253.2L361.0,256.0L358.1,258.9L355.3,256.0Z" fill="#2A10EE" stroke="#10086A" stroke-width="0.7"/>
<text x="401.5" y="13.6" font-size="16" font-weight="bold">B</text>
<text transform="translate(413.8,218) rotate(-90)" font-size="17.5">Aggregate Area (µm<tspan font-size="10.5" dy="-5.8">2</tspan><tspan dy="5.8">)</tspan></text>
<path d="M448.8,5.0 H734.0 V255.0 H448.8 Z" fill="none" stroke="#000" stroke-width="1.7"/>
<line x1="443.6" y1="252.20" x2="448.8" y2="252.20" stroke="#000" stroke-width="1.5"/>
<text transform="translate(439.60,257.10) scale(0.92,1)" text-anchor="end" font-size="15.5">0</text>
<line x1="443.6" y1="230.85" x2="448.8" y2="230.85" stroke="#000" stroke-width="1.5"/>
<text transform="translate(441.60,235.75) scale(0.92,1)" text-anchor="end" font-size="15.5">0.5</text>
<line x1="443.6" y1="209.50" x2="448.8" y2="209.50" stroke="#000" stroke-width="1.5"/>
<text transform="translate(441.60,214.40) scale(0.92,1)" text-anchor="end" font-size="15.5">1.0</text>
<line x1="443.6" y1="188.15" x2="448.8" y2="188.15" stroke="#000" stroke-width="1.5"/>
<text transform="translate(441.60,193.05) scale(0.92,1)" text-anchor="end" font-size="15.5">1.5</text>
<line x1="443.6" y1="166.80" x2="448.8" y2="166.80" stroke="#000" stroke-width="1.5"/>
<text transform="translate(441.60,171.70) scale(0.92,1)" text-anchor="end" font-size="15.5">2.0</text>
<line x1="443.6" y1="145.45" x2="448.8" y2="145.45" stroke="#000" stroke-width="1.5"/>
<text transform="translate(441.60,150.35) scale(0.92,1)" text-anchor="end" font-size="15.5">2.5</text>
<line x1="443.6" y1="124.10" x2="448.8" y2="124.10" stroke="#000" stroke-width="1.5"/>
<text transform="translate(441.60,129.00) scale(0.92,1)" text-anchor="end" font-size="15.5">3.0</text>
<line x1="443.6" y1="102.75" x2="448.8" y2="102.75" stroke="#000" stroke-width="1.5"/>
<text transform="translate(441.60,107.65) scale(0.92,1)" text-anchor="end" font-size="15.5">3.5</text>
<line x1="443.6" y1="81.40" x2="448.8" y2="81.40" stroke="#000" stroke-width="1.5"/>
<text transform="translate(441.60,86.30) scale(0.92,1)" text-anchor="end" font-size="15.5">4.0</text>
<line x1="443.6" y1="60.05" x2="448.8" y2="60.05" stroke="#000" stroke-width="1.5"/>
<text transform="translate(441.60,64.95) scale(0.92,1)" text-anchor="end" font-size="15.5">4.5</text>
<line x1="443.6" y1="38.70" x2="448.8" y2="38.70" stroke="#000" stroke-width="1.5"/>
<text transform="translate(441.60,43.60) scale(0.92,1)" text-anchor="end" font-size="15.5">5.0</text>
<line x1="443.6" y1="17.35" x2="448.8" y2="17.35" stroke="#000" stroke-width="1.5"/>
<text transform="translate(441.60,22.25) scale(0.92,1)" text-anchor="end" font-size="15.5">5.5</text>
<line x1="502.4" y1="255.0" x2="502.4" y2="260.5" stroke="#000" stroke-width="1.5"/>
<line x1="592.4" y1="255.0" x2="592.4" y2="260.5" stroke="#000" stroke-width="1.5"/>
<line x1="682.2" y1="255.0" x2="682.2" y2="260.5" stroke="#000" stroke-width="1.5"/>
<text transform="translate(502.4,277) scale(0.975,1)" text-anchor="middle" font-size="16">Day 3</text>
<text transform="translate(592.4,277) scale(0.975,1)" text-anchor="middle" font-size="16">Day 7</text>
<text transform="translate(682.2,277) scale(0.975,1)" text-anchor="middle" font-size="16">Day 3</text>
<text x="502.4" y="296" text-anchor="middle" font-size="16">WT</text>
<text x="592.4" y="296" text-anchor="middle" font-size="16">WT</text>
<text x="682.2" y="296" text-anchor="middle" font-size="16" font-style="italic">hsf-1(-)</text>
<rect x="471.7" y="232.5" width="61.30000000000001" height="13.800000000000011" fill="#6B6BEE" stroke="#2A20E6" stroke-width="1.4"/>
<line x1="471.7" y1="242.3" x2="533" y2="242.3" stroke="#2A20E6" stroke-width="1.3"/>
<rect x="561.6" y="210" width="61.39999999999998" height="35.19999999999999" fill="#D9636B" stroke="#D21E2A" stroke-width="1.4"/>
<line x1="561.6" y1="237.7" x2="623" y2="237.7" stroke="#D21E2A" stroke-width="1.3"/>
<rect x="651.5" y="220" width="61.299999999999955" height="25.80000000000001" fill="#D9636B" stroke="#D21E2A" stroke-width="1.4"/>
<line x1="651.5" y1="236.5" x2="712.8" y2="236.5" stroke="#D21E2A" stroke-width="1.3"/>
<line x1="486.9" y1="212.3" x2="517.9" y2="212.3" stroke="#2A20E6" stroke-width="1.2"/>
<line x1="502.4" y1="212.3" x2="502.4" y2="232.5" stroke="#2A20E6" stroke-width="1.2"/>
<line x1="577.1" y1="159.2" x2="608.1" y2="159.2" stroke="#D21E2A" stroke-width="1.2"/>
<line x1="592.6" y1="159.2" x2="592.6" y2="210" stroke="#D21E2A" stroke-width="1.2"/>
<line x1="666.4" y1="183.75" x2="698.4" y2="183.75" stroke="#D21E2A" stroke-width="1.2"/>
<line x1="682.4" y1="183.75" x2="682.4" y2="220" stroke="#D21E2A" stroke-width="1.2"/>
<path d="M503.1,163.0L506.0,165.8L503.1,168.7L500.2,165.8Z" fill="#2A10EE" stroke="#10086A" stroke-width="0.7"/>
<path d="M494.2,179.7L497.1,182.5L494.2,185.3L491.3,182.5Z" fill="#2A10EE" stroke="#10086A" stroke-width="0.7"/>
<path d="M520.4,179.7L523.2,182.5L520.4,185.3L517.5,182.5Z" fill="#2A10EE" stroke="#10086A" stroke-width="0.7"/>
<path d="M501.8,190.8L504.7,193.7L501.8,196.5L498.9,193.7Z" fill="#2A10EE" stroke="#10086A" stroke-width="0.7"/>
<path d="M518.3,194.8L521.1,197.6L518.3,200.4L515.4,197.6Z" fill="#2A10EE" stroke="#10086A" stroke-width="0.7"/>
<path d="M495.5,205.2L498.4,208.0L495.5,210.8L492.6,208.0Z" fill="#2A10EE" stroke="#10086A" stroke-width="0.7"/>
<path d="M502.5,206.7L505.4,209.5L502.5,212.3L499.6,209.5Z" fill="#2A10EE" stroke="#10086A" stroke-width="0.7"/>
<path d="M495.5,204.8L498.4,207.7L495.5,210.5L492.6,207.7Z" fill="#2A10EE" stroke="#10086A" stroke-width="0.7"/>
<path d="M501.9,206.8L504.8,209.6L501.9,212.4L499.0,209.6Z" fill="#2A10EE" stroke="#10086A" stroke-width="0.7"/>
<path d="M498.2,210.3L501.1,213.2L498.2,216.0L495.3,213.2Z" fill="#2A10EE" stroke="#10086A" stroke-width="0.7"/>
<path d="M493.3,214.1L496.2,216.9L493.3,219.8L490.4,216.9Z" fill="#2A10EE" stroke="#10086A" stroke-width="0.7"/>
<path d="M502.8,213.6L505.7,216.4L502.8,219.2L499.9,216.4Z" fill="#2A10EE" stroke="#10086A" stroke-width="0.7"/>
<path d="M498.8,217.8L501.7,220.6L498.8,223.4L495.9,220.6Z" fill="#2A10EE" stroke="#10086A" stroke-width="0.7"/>
<path d="M490.9,220.5L493.8,223.3L490.9,226.2L488.0,223.3Z" fill="#2A10EE" stroke="#10086A" stroke-width="0.7"/>
<path d="M503.7,220.5L506.6,223.3L503.7,226.2L500.8,223.3Z" fill="#2A10EE" stroke="#10086A" stroke-width="0.7"/>
<path d="M510.5,219.6L513.4,222.4L510.5,225.2L507.6,222.4Z" fill="#2A10EE" stroke="#10086A" stroke-width="0.7"/>
<path d="M495.5,222.2L498.4,225.1L495.5,227.9L492.6,225.1Z" fill="#2A10EE" stroke="#10086A" stroke-width="0.7"/>
<path d="M515.6,223.2L518.5,226.1L515.6,228.9L512.8,226.1Z" fill="#2A10EE" stroke="#10086A" stroke-width="0.7"/>
<path d="M501.9,226.0L504.8,228.8L501.9,231.7L499.0,228.8Z" fill="#2A10EE" stroke="#10086A" stroke-width="0.7"/>
<path d="M494.4,223.6L497.2,226.4L494.4,229.2L491.5,226.4Z" fill="#2A10EE" stroke="#10086A" stroke-width="0.7"/>
<path d="M502.6,223.6L505.5,226.4L502.6,229.2L499.8,226.4Z" fill="#2A10EE" stroke="#10086A" stroke-width="0.7"/>
<path d="M516.0,223.6L518.9,226.4L516.0,229.2L513.1,226.4Z" fill="#2A10EE" stroke="#10086A" stroke-width="0.7"/>
<path d="M498.7,227.1L501.6,229.9L498.7,232.8L495.8,229.9Z" fill="#2A10EE" stroke="#10086A" stroke-width="0.7"/>
<path d="M503.0,226.7L505.9,229.5L503.0,232.3L500.1,229.5Z" fill="#2A10EE" stroke="#10086A" stroke-width="0.7"/>
<path d="M509.1,227.5L512.0,230.3L509.1,233.2L506.2,230.3Z" fill="#2A10EE" stroke="#10086A" stroke-width="0.7"/>
<path d="M495.7,230.1L498.6,232.9L495.7,235.8L492.8,232.9Z" fill="#2A10EE" stroke="#10086A" stroke-width="0.7"/>
<path d="M500.5,231.0L503.4,233.8L500.5,236.7L497.6,233.8Z" fill="#2A10EE" stroke="#10086A" stroke-width="0.7"/>
<path d="M506.5,229.7L509.4,232.5L506.5,235.3L503.6,232.5Z" fill="#2A10EE" stroke="#10086A" stroke-width="0.7"/>
<path d="M513.9,230.1L516.8,232.9L513.9,235.8L511.0,232.9Z" fill="#2A10EE" stroke="#10086A" stroke-width="0.7"/>
<path d="M482.2,234.8L485.1,237.7L482.2,240.5L479.3,237.7Z" fill="#2A10EE" stroke="#10086A" stroke-width="0.7"/>
<path d="M488.3,234.5L491.2,237.3L488.3,240.2L485.4,237.3Z" fill="#2A10EE" stroke="#10086A" stroke-width="0.7"/>
<path d="M491.3,236.2L494.2,239.0L491.3,241.8L488.4,239.0Z" fill="#2A10EE" stroke="#10086A" stroke-width="0.7"/>
<path d="M497.4,236.2L500.2,239.0L497.4,241.8L494.5,239.0Z" fill="#2A10EE" stroke="#10086A" stroke-width="0.7"/>
<path d="M502.6,235.8L505.5,238.6L502.6,241.4L499.8,238.6Z" fill="#2A10EE" stroke="#10086A" stroke-width="0.7"/>
<path d="M516.9,234.5L519.8,237.3L516.9,240.2L514.0,237.3Z" fill="#2A10EE" stroke="#10086A" stroke-width="0.7"/>
<path d="M529.5,237.8L532.4,240.7L529.5,243.5L526.6,240.7Z" fill="#2A10EE" stroke="#10086A" stroke-width="0.7"/>
<path d="M508.7,238.3L511.6,241.2L508.7,244.0L505.8,241.2Z" fill="#2A10EE" stroke="#10086A" stroke-width="0.7"/>
<path d="M513.9,237.1L516.8,239.9L513.9,242.8L511.0,239.9Z" fill="#2A10EE" stroke="#10086A" stroke-width="0.7"/>
<path d="M487.4,240.5L490.2,243.3L487.4,246.2L484.5,243.3Z" fill="#2A10EE" stroke="#10086A" stroke-width="0.7"/>
<path d="M494.0,240.1L496.9,242.9L494.0,245.8L491.1,242.9Z" fill="#2A10EE" stroke="#10086A" stroke-width="0.7"/>
<path d="M500.0,238.8L502.9,241.6L500.0,244.4L497.1,241.6Z" fill="#2A10EE" stroke="#10086A" stroke-width="0.7"/>
<path d="M505.2,240.5L508.1,243.3L505.2,246.2L502.3,243.3Z" fill="#2A10EE" stroke="#10086A" stroke-width="0.7"/>
<path d="M512.2,240.5L515.1,243.3L512.2,246.2L509.4,243.3Z" fill="#2A10EE" stroke="#10086A" stroke-width="0.7"/>
<path d="M518.2,239.7L521.1,242.5L518.2,245.3L515.4,242.5Z" fill="#2A10EE" stroke="#10086A" stroke-width="0.7"/>
<path d="M481.4,243.6L484.2,246.4L481.4,249.2L478.5,246.4Z" fill="#2A10EE" stroke="#10086A" stroke-width="0.7"/>
<path d="M485.3,244.8L488.2,247.7L485.3,250.5L482.4,247.7Z" fill="#2A10EE" stroke="#10086A" stroke-width="0.7"/>
<path d="M490.5,243.6L493.4,246.4L490.5,249.2L487.6,246.4Z" fill="#2A10EE" stroke="#10086A" stroke-width="0.7"/>
<path d="M496.5,243.6L499.4,246.4L496.5,249.2L493.6,246.4Z" fill="#2A10EE" stroke="#10086A" stroke-width="0.7"/>
<path d="M502.6,243.6L505.5,246.4L502.6,249.2L499.8,246.4Z" fill="#2A10EE" stroke="#10086A" stroke-width="0.7"/>
<path d="M507.0,245.2L509.9,248.1L507.0,250.9L504.1,248.1Z" fill="#2A10EE" stroke="#10086A" stroke-width="0.7"/>
<path d="M511.3,244.0L514.1,246.8L511.3,249.7L508.4,246.8Z" fill="#2A10EE" stroke="#10086A" stroke-width="0.7"/>
<path d="M516.5,243.6L519.4,246.4L516.5,249.2L513.6,246.4Z" fill="#2A10EE" stroke="#10086A" stroke-width="0.7"/>
<path d="M520.8,242.7L523.6,245.5L520.8,248.3L517.9,245.5Z" fill="#2A10EE" stroke="#10086A" stroke-width="0.7"/>
<path d="M499.2,246.2L502.1,249.0L499.2,251.8L496.3,249.0Z" fill="#2A10EE" stroke="#10086A" stroke-width="0.7"/>
<path d="M509.6,246.6L512.5,249.4L509.6,252.2L506.8,249.4Z" fill="#2A10EE" stroke="#10086A" stroke-width="0.7"/>
<path d="M492.0,246.2L494.9,249.0L492.0,251.8L489.1,249.0Z" fill="#2A10EE" stroke="#10086A" stroke-width="0.7"/>
<path d="M514.0,246.7L516.9,249.5L514.0,252.3L511.1,249.5Z" fill="#2A10EE" stroke="#10086A" stroke-width="0.7"/>
<path d="M605.0,37.9L607.9,40.8L605.0,43.6L602.1,40.8Z" fill="#D3141E" stroke="#6E0A0E" stroke-width="0.7"/>
<path d="M583.2,45.9L586.1,48.8L583.2,51.6L580.4,48.8Z" fill="#D3141E" stroke="#6E0A0E" stroke-width="0.7"/>
<path d="M587.0,95.4L589.9,98.2L587.0,101.1L584.1,98.2Z" fill="#D3141E" stroke="#6E0A0E" stroke-width="0.7"/>
<path d="M587.5,129.7L590.4,132.5L587.5,135.3L584.6,132.5Z" fill="#D3141E" stroke="#6E0A0E" stroke-width="0.7"/>
<path d="M600.8,129.7L603.6,132.5L600.8,135.3L597.9,132.5Z" fill="#D3141E" stroke="#6E0A0E" stroke-width="0.7"/>
<path d="M603.0,132.7L605.9,135.5L603.0,138.3L600.1,135.5Z" fill="#D3141E" stroke="#6E0A0E" stroke-width="0.7"/>
<path d="M596.8,148.1L599.6,150.9L596.8,153.8L593.9,150.9Z" fill="#D3141E" stroke="#6E0A0E" stroke-width="0.7"/>
<path d="M606.7,150.5L609.6,153.3L606.7,156.2L603.9,153.3Z" fill="#D3141E" stroke="#6E0A0E" stroke-width="0.7"/>
<path d="M596.3,156.3L599.1,159.2L596.3,162.0L593.4,159.2Z" fill="#D3141E" stroke="#6E0A0E" stroke-width="0.7"/>
<path d="M597.6,162.2L600.5,165.0L597.6,167.8L594.8,165.0Z" fill="#D3141E" stroke="#6E0A0E" stroke-width="0.7"/>
<path d="M574.3,164.2L577.1,167.1L574.3,169.9L571.4,167.1Z" fill="#D3141E" stroke="#6E0A0E" stroke-width="0.7"/>
<path d="M593.5,169.8L596.4,172.6L593.5,175.4L590.6,172.6Z" fill="#D3141E" stroke="#6E0A0E" stroke-width="0.7"/>
<path d="M584.9,174.3L587.8,177.2L584.9,180.0L582.0,177.2Z" fill="#D3141E" stroke="#6E0A0E" stroke-width="0.7"/>
<path d="M606.0,179.8L608.9,182.7L606.0,185.5L603.1,182.7Z" fill="#D3141E" stroke="#6E0A0E" stroke-width="0.7"/>
<path d="M583.4,191.6L586.2,194.4L583.4,197.2L580.5,194.4Z" fill="#D3141E" stroke="#6E0A0E" stroke-width="0.7"/>
<path d="M587.7,189.8L590.6,192.6L587.7,195.4L584.9,192.6Z" fill="#D3141E" stroke="#6E0A0E" stroke-width="0.7"/>
<path d="M591.3,191.8L594.1,194.6L591.3,197.4L588.4,194.6Z" fill="#D3141E" stroke="#6E0A0E" stroke-width="0.7"/>
<path d="M589.9,194.5L592.8,197.3L589.9,200.2L587.0,197.3Z" fill="#D3141E" stroke="#6E0A0E" stroke-width="0.7"/>
<path d="M597.2,199.5L600.1,202.3L597.2,205.2L594.4,202.3Z" fill="#D3141E" stroke="#6E0A0E" stroke-width="0.7"/>
<path d="M590.0,194.2L592.9,197.0L590.0,199.8L587.1,197.0Z" fill="#D3141E" stroke="#6E0A0E" stroke-width="0.7"/>
<path d="M597.4,199.8L600.2,202.6L597.4,205.4L594.5,202.6Z" fill="#D3141E" stroke="#6E0A0E" stroke-width="0.7"/>
<path d="M585.0,204.2L587.9,207.0L585.0,209.8L582.1,207.0Z" fill="#D3141E" stroke="#6E0A0E" stroke-width="0.7"/>
<path d="M609.0,205.2L611.9,208.0L609.0,210.8L606.1,208.0Z" fill="#D3141E" stroke="#6E0A0E" stroke-width="0.7"/>
<path d="M593.0,207.2L595.9,210.0L593.0,212.8L590.1,210.0Z" fill="#D3141E" stroke="#6E0A0E" stroke-width="0.7"/>
<path d="M596.0,205.8L598.9,208.6L596.0,211.4L593.1,208.6Z" fill="#D3141E" stroke="#6E0A0E" stroke-width="0.7"/>
<path d="M581.0,209.8L583.9,212.6L581.0,215.4L578.1,212.6Z" fill="#D3141E" stroke="#6E0A0E" stroke-width="0.7"/>
<path d="M598.0,211.2L600.9,214.0L598.0,216.8L595.1,214.0Z" fill="#D3141E" stroke="#6E0A0E" stroke-width="0.7"/>
<path d="M580.0,219.2L582.9,222.0L580.0,224.8L577.1,222.0Z" fill="#D3141E" stroke="#6E0A0E" stroke-width="0.7"/>
<path d="M598.0,217.2L600.9,220.0L598.0,222.8L595.1,220.0Z" fill="#D3141E" stroke="#6E0A0E" stroke-width="0.7"/>
<path d="M587.0,223.2L589.9,226.0L587.0,228.8L584.1,226.0Z" fill="#D3141E" stroke="#6E0A0E" stroke-width="0.7"/>
<path d="M592.0,221.2L594.9,224.0L592.0,226.8L589.1,224.0Z" fill="#D3141E" stroke="#6E0A0E" stroke-width="0.7"/>
<path d="M595.0,221.8L597.9,224.6L595.0,227.4L592.1,224.6Z" fill="#D3141E" stroke="#6E0A0E" stroke-width="0.7"/>
<path d="M599.0,221.8L601.9,224.6L599.0,227.4L596.1,224.6Z" fill="#D3141E" stroke="#6E0A0E" stroke-width="0.7"/>
<path d="M603.0,222.2L605.9,225.0L603.0,227.8L600.1,225.0Z" fill="#D3141E" stroke="#6E0A0E" stroke-width="0.7"/>
<path d="M584.0,226.2L586.9,229.0L584.0,231.8L581.1,229.0Z" fill="#D3141E" stroke="#6E0A0E" stroke-width="0.7"/>
<path d="M590.6,226.2L593.5,229.0L590.6,231.8L587.8,229.0Z" fill="#D3141E" stroke="#6E0A0E" stroke-width="0.7"/>
<path d="M596.0,230.2L598.9,233.0L596.0,235.8L593.1,233.0Z" fill="#D3141E" stroke="#6E0A0E" stroke-width="0.7"/>
<path d="M575.0,230.2L577.9,233.0L575.0,235.8L572.1,233.0Z" fill="#D3141E" stroke="#6E0A0E" stroke-width="0.7"/>
<path d="M576.0,233.2L578.9,236.0L576.0,238.8L573.1,236.0Z" fill="#D3141E" stroke="#6E0A0E" stroke-width="0.7"/>
<path d="M584.6,230.6L587.5,233.4L584.6,236.2L581.8,233.4Z" fill="#D3141E" stroke="#6E0A0E" stroke-width="0.7"/>
<path d="M607.4,235.8L610.2,238.6L607.4,241.4L604.5,238.6Z" fill="#D3141E" stroke="#6E0A0E" stroke-width="0.7"/>
<path d="M583.6,226.1L586.5,228.9L583.6,231.8L580.8,228.9Z" fill="#D3141E" stroke="#6E0A0E" stroke-width="0.7"/>
<path d="M590.5,226.5L593.4,229.3L590.5,232.2L587.6,229.3Z" fill="#D3141E" stroke="#6E0A0E" stroke-width="0.7"/>
<path d="M575.4,230.0L578.2,232.8L575.4,235.7L572.5,232.8Z" fill="#D3141E" stroke="#6E0A0E" stroke-width="0.7"/>
<path d="M584.5,230.3L587.4,233.2L584.5,236.0L581.6,233.2Z" fill="#D3141E" stroke="#6E0A0E" stroke-width="0.7"/>
<path d="M595.7,230.3L598.6,233.2L595.7,236.0L592.9,233.2Z" fill="#D3141E" stroke="#6E0A0E" stroke-width="0.7"/>
<path d="M575.4,233.0L578.2,235.8L575.4,238.7L572.5,235.8Z" fill="#D3141E" stroke="#6E0A0E" stroke-width="0.7"/>
<path d="M589.7,232.6L592.6,235.4L589.7,238.2L586.9,235.4Z" fill="#D3141E" stroke="#6E0A0E" stroke-width="0.7"/>
<path d="M593.1,233.8L596.0,236.7L593.1,239.5L590.2,236.7Z" fill="#D3141E" stroke="#6E0A0E" stroke-width="0.7"/>
<path d="M607.4,236.0L610.2,238.8L607.4,241.7L604.5,238.8Z" fill="#D3141E" stroke="#6E0A0E" stroke-width="0.7"/>
<path d="M583.6,236.0L586.5,238.8L583.6,241.7L580.8,238.8Z" fill="#D3141E" stroke="#6E0A0E" stroke-width="0.7"/>
<path d="M587.9,236.0L590.8,238.8L587.9,241.7L585.0,238.8Z" fill="#D3141E" stroke="#6E0A0E" stroke-width="0.7"/>
<path d="M591.0,238.2L593.9,241.0L591.0,243.8L588.1,241.0Z" fill="#D3141E" stroke="#6E0A0E" stroke-width="0.7"/>
<path d="M593.6,238.2L596.5,241.0L593.6,243.8L590.8,241.0Z" fill="#D3141E" stroke="#6E0A0E" stroke-width="0.7"/>
<path d="M597.0,239.1L599.9,241.9L597.0,244.8L594.1,241.9Z" fill="#D3141E" stroke="#6E0A0E" stroke-width="0.7"/>
<path d="M601.4,239.1L604.2,241.9L601.4,244.8L598.5,241.9Z" fill="#D3141E" stroke="#6E0A0E" stroke-width="0.7"/>
<path d="M580.6,241.7L583.5,244.5L580.6,247.3L577.8,244.5Z" fill="#D3141E" stroke="#6E0A0E" stroke-width="0.7"/>
<path d="M584.5,241.2L587.4,244.0L584.5,246.8L581.6,244.0Z" fill="#D3141E" stroke="#6E0A0E" stroke-width="0.7"/>
<path d="M589.2,242.1L592.1,244.9L589.2,247.8L586.4,244.9Z" fill="#D3141E" stroke="#6E0A0E" stroke-width="0.7"/>
<path d="M603.1,241.7L606.0,244.5L603.1,247.3L600.2,244.5Z" fill="#D3141E" stroke="#6E0A0E" stroke-width="0.7"/>
<path d="M575.4,243.3L578.2,246.2L575.4,249.0L572.5,246.2Z" fill="#D3141E" stroke="#6E0A0E" stroke-width="0.7"/>
<path d="M594.4,242.8L597.2,245.7L594.4,248.5L591.5,245.7Z" fill="#D3141E" stroke="#6E0A0E" stroke-width="0.7"/>
<path d="M607.0,243.3L609.9,246.2L607.0,249.0L604.1,246.2Z" fill="#D3141E" stroke="#6E0A0E" stroke-width="0.7"/>
<path d="M575.4,245.5L578.2,248.3L575.4,251.2L572.5,248.3Z" fill="#D3141E" stroke="#6E0A0E" stroke-width="0.7"/>
<path d="M583.6,245.1L586.5,247.9L583.6,250.8L580.8,247.9Z" fill="#D3141E" stroke="#6E0A0E" stroke-width="0.7"/>
<path d="M589.2,245.5L592.1,248.3L589.2,251.2L586.4,248.3Z" fill="#D3141E" stroke="#6E0A0E" stroke-width="0.7"/>
<path d="M595.7,244.7L598.6,247.5L595.7,250.3L592.9,247.5Z" fill="#D3141E" stroke="#6E0A0E" stroke-width="0.7"/>
<path d="M605.3,246.3L608.1,249.2L605.3,252.0L602.4,249.2Z" fill="#D3141E" stroke="#6E0A0E" stroke-width="0.7"/>
<path d="M590.1,247.7L593.0,250.5L590.1,253.3L587.2,250.5Z" fill="#D3141E" stroke="#6E0A0E" stroke-width="0.7"/>
<path d="M665.5,49.1L668.4,52.0L665.5,54.9L662.6,52.0Z" fill="#D3141E" stroke="#6E0A0E" stroke-width="0.7"/>
<path d="M696.2,129.7L699.1,132.5L696.2,135.3L693.4,132.5Z" fill="#D3141E" stroke="#6E0A0E" stroke-width="0.7"/>
<path d="M673.8,136.4L676.6,139.2L673.8,142.1L670.9,139.2Z" fill="#D3141E" stroke="#6E0A0E" stroke-width="0.7"/>
<path d="M679.2,136.4L682.1,139.2L679.2,142.1L676.4,139.2Z" fill="#D3141E" stroke="#6E0A0E" stroke-width="0.7"/>
<path d="M678.2,142.9L681.1,145.8L678.2,148.6L675.4,145.8Z" fill="#D3141E" stroke="#6E0A0E" stroke-width="0.7"/>
<path d="M680.0,154.7L682.9,157.5L680.0,160.3L677.1,157.5Z" fill="#D3141E" stroke="#6E0A0E" stroke-width="0.7"/>
<path d="M680.0,175.2L682.9,178.0L680.0,180.8L677.1,178.0Z" fill="#D3141E" stroke="#6E0A0E" stroke-width="0.7"/>
<path d="M675.8,180.9L678.6,183.8L675.8,186.6L672.9,183.8Z" fill="#D3141E" stroke="#6E0A0E" stroke-width="0.7"/>
<path d="M671.2,184.2L674.1,187.0L671.2,189.8L668.4,187.0Z" fill="#D3141E" stroke="#6E0A0E" stroke-width="0.7"/>
<path d="M696.2,189.7L699.1,192.5L696.2,195.3L693.4,192.5Z" fill="#D3141E" stroke="#6E0A0E" stroke-width="0.7"/>
<path d="M670.7,184.5L673.6,187.3L670.7,190.2L667.9,187.3Z" fill="#D3141E" stroke="#6E0A0E" stroke-width="0.7"/>
<path d="M675.4,183.3L678.2,186.2L675.4,189.0L672.5,186.2Z" fill="#D3141E" stroke="#6E0A0E" stroke-width="0.7"/>
<path d="M695.9,189.7L698.8,192.5L695.9,195.3L693.0,192.5Z" fill="#D3141E" stroke="#6E0A0E" stroke-width="0.7"/>
<path d="M677.2,198.6L680.1,201.4L677.2,204.2L674.4,201.4Z" fill="#D3141E" stroke="#6E0A0E" stroke-width="0.7"/>
<path d="M670.2,203.2L673.1,206.0L670.2,208.8L667.4,206.0Z" fill="#D3141E" stroke="#6E0A0E" stroke-width="0.7"/>
<path d="M669.5,205.1L672.4,207.9L669.5,210.8L666.6,207.9Z" fill="#D3141E" stroke="#6E0A0E" stroke-width="0.7"/>
<path d="M685.9,201.3L688.8,204.2L685.9,207.0L683.0,204.2Z" fill="#D3141E" stroke="#6E0A0E" stroke-width="0.7"/>
<path d="M682.4,203.2L685.2,206.0L682.4,208.8L679.5,206.0Z" fill="#D3141E" stroke="#6E0A0E" stroke-width="0.7"/>
<path d="M697.6,212.6L700.5,215.4L697.6,218.2L694.8,215.4Z" fill="#D3141E" stroke="#6E0A0E" stroke-width="0.7"/>
<path d="M673.0,212.6L675.9,215.4L673.0,218.2L670.1,215.4Z" fill="#D3141E" stroke="#6E0A0E" stroke-width="0.7"/>
<path d="M680.0,211.3L682.9,214.2L680.0,217.0L677.1,214.2Z" fill="#D3141E" stroke="#6E0A0E" stroke-width="0.7"/>
<path d="M683.6,213.7L686.5,216.5L683.6,219.3L680.8,216.5Z" fill="#D3141E" stroke="#6E0A0E" stroke-width="0.7"/>
<path d="M666.0,219.1L668.9,221.9L666.0,224.8L663.1,221.9Z" fill="#D3141E" stroke="#6E0A0E" stroke-width="0.7"/>
<path d="M675.4,216.1L678.2,218.9L675.4,221.8L672.5,218.9Z" fill="#D3141E" stroke="#6E0A0E" stroke-width="0.7"/>
<path d="M692.9,216.1L695.8,218.9L692.9,221.8L690.0,218.9Z" fill="#D3141E" stroke="#6E0A0E" stroke-width="0.7"/>
<path d="M681.2,220.8L684.1,223.6L681.2,226.4L678.4,223.6Z" fill="#D3141E" stroke="#6E0A0E" stroke-width="0.7"/>
<path d="M673.0,222.3L675.9,225.2L673.0,228.0L670.1,225.2Z" fill="#D3141E" stroke="#6E0A0E" stroke-width="0.7"/>
<path d="M692.9,222.3L695.8,225.2L692.9,228.0L690.0,225.2Z" fill="#D3141E" stroke="#6E0A0E" stroke-width="0.7"/>
<path d="M696.0,224.2L698.9,227.0L696.0,229.8L693.1,227.0Z" fill="#D3141E" stroke="#6E0A0E" stroke-width="0.7"/>
<path d="M672.6,226.6L675.5,229.4L672.6,232.2L669.8,229.4Z" fill="#D3141E" stroke="#6E0A0E" stroke-width="0.7"/>
<path d="M688.2,230.1L691.1,232.9L688.2,235.8L685.4,232.9Z" fill="#D3141E" stroke="#6E0A0E" stroke-width="0.7"/>
<path d="M692.9,231.2L695.8,234.0L692.9,236.8L690.0,234.0Z" fill="#D3141E" stroke="#6E0A0E" stroke-width="0.7"/>
<path d="M676.5,231.2L679.4,234.0L676.5,236.8L673.6,234.0Z" fill="#D3141E" stroke="#6E0A0E" stroke-width="0.7"/>
<path d="M664.9,237.8L667.8,240.6L664.9,243.4L662.0,240.6Z" fill="#D3141E" stroke="#6E0A0E" stroke-width="0.7"/>
<path d="M699.2,240.2L702.1,243.0L699.2,245.8L696.4,243.0Z" fill="#D3141E" stroke="#6E0A0E" stroke-width="0.7"/>
<path d="M674.1,223.7L677.0,226.5L674.1,229.3L671.2,226.5Z" fill="#D3141E" stroke="#6E0A0E" stroke-width="0.7"/>
<path d="M683.0,223.2L685.9,226.0L683.0,228.8L680.1,226.0Z" fill="#D3141E" stroke="#6E0A0E" stroke-width="0.7"/>
<path d="M692.3,223.7L695.1,226.5L692.3,229.3L689.4,226.5Z" fill="#D3141E" stroke="#6E0A0E" stroke-width="0.7"/>
<path d="M696.1,224.6L699.0,227.4L696.1,230.2L693.2,227.4Z" fill="#D3141E" stroke="#6E0A0E" stroke-width="0.7"/>
<path d="M672.3,226.5L675.1,229.3L672.3,232.2L669.4,229.3Z" fill="#D3141E" stroke="#6E0A0E" stroke-width="0.7"/>
<path d="M674.6,229.7L677.5,232.5L674.6,235.3L671.8,232.5Z" fill="#D3141E" stroke="#6E0A0E" stroke-width="0.7"/>
<path d="M678.8,230.2L681.6,233.0L678.8,235.8L675.9,233.0Z" fill="#D3141E" stroke="#6E0A0E" stroke-width="0.7"/>
<path d="M682.1,232.1L685.0,234.9L682.1,237.8L679.2,234.9Z" fill="#D3141E" stroke="#6E0A0E" stroke-width="0.7"/>
<path d="M688.6,229.2L691.5,232.1L688.6,234.9L685.8,232.1Z" fill="#D3141E" stroke="#6E0A0E" stroke-width="0.7"/>
<path d="M692.8,232.1L695.6,234.9L692.8,237.8L689.9,234.9Z" fill="#D3141E" stroke="#6E0A0E" stroke-width="0.7"/>
<path d="M673.2,233.8L676.1,236.7L673.2,239.5L670.4,236.7Z" fill="#D3141E" stroke="#6E0A0E" stroke-width="0.7"/>
<path d="M677.4,233.5L680.2,236.3L677.4,239.2L674.5,236.3Z" fill="#D3141E" stroke="#6E0A0E" stroke-width="0.7"/>
<path d="M683.0,235.2L685.9,238.1L683.0,240.9L680.1,238.1Z" fill="#D3141E" stroke="#6E0A0E" stroke-width="0.7"/>
<path d="M663.9,237.2L666.8,240.0L663.9,242.8L661.0,240.0Z" fill="#D3141E" stroke="#6E0A0E" stroke-width="0.7"/>
<path d="M670.0,239.5L672.9,242.3L670.0,245.2L667.1,242.3Z" fill="#D3141E" stroke="#6E0A0E" stroke-width="0.7"/>
<path d="M677.4,237.2L680.2,240.0L677.4,242.8L674.5,240.0Z" fill="#D3141E" stroke="#6E0A0E" stroke-width="0.7"/>
<path d="M687.2,237.7L690.1,240.5L687.2,243.3L684.4,240.5Z" fill="#D3141E" stroke="#6E0A0E" stroke-width="0.7"/>
<path d="M699.4,240.5L702.2,243.3L699.4,246.2L696.5,243.3Z" fill="#D3141E" stroke="#6E0A0E" stroke-width="0.7"/>
<path d="M665.3,240.5L668.1,243.3L665.3,246.2L662.4,243.3Z" fill="#D3141E" stroke="#6E0A0E" stroke-width="0.7"/>
<path d="M674.1,240.5L677.0,243.3L674.1,246.2L671.2,243.3Z" fill="#D3141E" stroke="#6E0A0E" stroke-width="0.7"/>
<path d="M681.1,240.5L684.0,243.3L681.1,246.2L678.2,243.3Z" fill="#D3141E" stroke="#6E0A0E" stroke-width="0.7"/>
<path d="M685.8,240.5L688.6,243.3L685.8,246.2L682.9,243.3Z" fill="#D3141E" stroke="#6E0A0E" stroke-width="0.7"/>
<path d="M691.9,240.0L694.8,242.8L691.9,245.7L689.0,242.8Z" fill="#D3141E" stroke="#6E0A0E" stroke-width="0.7"/>
<path d="M665.7,243.2L668.6,246.1L665.7,248.9L662.9,246.1Z" fill="#D3141E" stroke="#6E0A0E" stroke-width="0.7"/>
<path d="M678.3,243.7L681.1,246.5L678.3,249.3L675.4,246.5Z" fill="#D3141E" stroke="#6E0A0E" stroke-width="0.7"/>
<path d="M684.0,243.7L686.9,246.5L684.0,249.3L681.1,246.5Z" fill="#D3141E" stroke="#6E0A0E" stroke-width="0.7"/>
<path d="M688.6,242.8L691.5,245.6L688.6,248.4L685.8,245.6Z" fill="#D3141E" stroke="#6E0A0E" stroke-width="0.7"/>
<path d="M695.1,242.8L698.0,245.6L695.1,248.4L692.2,245.6Z" fill="#D3141E" stroke="#6E0A0E" stroke-width="0.7"/>
<path d="M671.3,246.5L674.1,249.3L671.3,252.2L668.4,249.3Z" fill="#D3141E" stroke="#6E0A0E" stroke-width="0.7"/>
<path d="M674.6,245.6L677.5,248.4L674.6,251.2L671.8,248.4Z" fill="#D3141E" stroke="#6E0A0E" stroke-width="0.7"/>
<path d="M680.2,246.5L683.1,249.3L680.2,252.2L677.4,249.3Z" fill="#D3141E" stroke="#6E0A0E" stroke-width="0.7"/>
<path d="M688.1,246.5L691.0,249.3L688.1,252.2L685.2,249.3Z" fill="#D3141E" stroke="#6E0A0E" stroke-width="0.7"/>
<path d="M697.0,245.6L699.9,248.4L697.0,251.2L694.1,248.4Z" fill="#D3141E" stroke="#6E0A0E" stroke-width="0.7"/>
<path d="M677.4,247.0L680.2,249.8L677.4,252.7L674.5,249.8Z" fill="#D3141E" stroke="#6E0A0E" stroke-width="0.7"/>
<line x1="502" y1="26.2" x2="682.4" y2="26.2" stroke="#000" stroke-width="1.6"/>
<line x1="501" y1="42.5" x2="590" y2="42.5" stroke="#000" stroke-width="1.6"/>
<path d="M591.0,16.2H597.8M592.4,13.1L596.4,19.3M596.4,13.1L592.4,19.3" stroke="#222" stroke-width="1.15" fill="none"/>
<path d="M599.0,16.2H605.8M600.4,13.1L604.4,19.3M604.4,13.1L600.4,19.3" stroke="#222" stroke-width="1.15" fill="none"/>
<path d="M536.0,37.5H542.8M537.4,34.4L541.4,40.6M541.4,34.4L537.4,40.6" stroke="#222" stroke-width="1.15" fill="none"/>
<path d="M544.1,37.5H550.9M545.5,34.4L549.5,40.6M549.5,34.4L545.5,40.6" stroke="#222" stroke-width="1.15" fill="none"/>
</svg>
</body></html>
